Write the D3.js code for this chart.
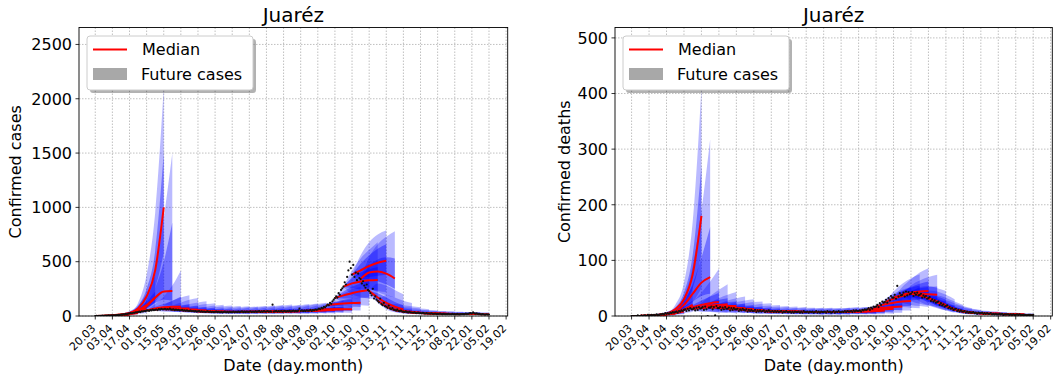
<!DOCTYPE html>
<html>
<head>
<meta charset="utf-8">
<script src="https://cdn.jsdelivr.net/npm/d3@7"></script>
<style>
  body { margin: 0; background: #fff; }
  svg { display: block; }
  text { font-family: "DejaVu Sans", sans-serif; fill: #000; }
</style>
</head>
<body>
<svg id="chart" width="1060" height="379"></svg>
<script>
// ---------------------------------------------------------------------------
// Data: Juárez daily confirmed cases / deaths and weekly 4-week forecasts
// ---------------------------------------------------------------------------
const seriesStart = [2020, 2, 20];            // first observed day: 20 March 2020
const cityName = "Juaréz";

const tickLabels = ["20.03", "03.04", "17.04", "01.05", "15.05", "29.05", "12.06",
  "26.06", "10.07", "24.07", "07.08", "21.08", "04.09", "18.09", "02.10", "16.10",
  "30.10", "13.11", "27.11", "11.12", "25.12", "08.01", "22.01", "05.02", "19.02"];
const tickDays = [0, 14, 28, 42, 56, 70, 84, 98, 112, 126, 140, 154, 168, 182, 196,
  210, 224, 238, 252, 266, 280, 294, 308, 322, 336];

const casesTicks = [0, 500, 1000, 1500, 2000, 2500];
const deathsTicks = [0, 100, 200, 300, 400, 500];

// days (since series start) on which each forecast was issued
const forecastStarts = [0, 7, 14, 21, 28, 35, 42, 49, 56, 63, 70, 77, 84, 91, 98, 105,
  112, 119, 126, 133, 140, 147, 154, 161, 168, 175, 182, 189, 196, 203, 210, 217, 224,
  231, 238, 245, 252, 259, 266, 273, 280, 287, 294];
// forecast horizon nodes, in days after issue
const horizonDays = [0, 7, 14, 21, 28];

const casesObserved = [
  0,1,0,1,2,1,3, 2,3,4,3,5,4,6, 5,7,6,9,8,11,10, 13,12,16,15,19,18,22,
  24,27,25,30,29,34,33, 37,40,36,43,41,46,44, 49,52,47,55,51,58,54, 57,60,55,63,58,66,61,
  62,65,59,64,60,67,58, 58,61,54,59,55,57,52, 53,56,49,52,48,51,46, 47,49,44,46,42,45,41,
  43,45,39,42,38,41,37, 40,43,37,41,36,39,35, 38,41,35,39,34,38,33, 37,40,34,38,33,39,35,
  36,41,34,39,35,40,36, 38,42,35,40,36,41,37, 39,43,36,41,37,42,38, 40,44,37,42,38,45,39,
  41,46,38,43,40,104,40, 42,47,39,44,41,46,40, 43,48,40,45,42,47,41, 44,50,42,47,43,49,68,
  46,52,44,49,45,53,48, 50,56,47,54,52,60,57, 60,68,62,75,70,84,80, 92,105,98,120,112,135,150,
  165,182,170,210,195,240,255, 270,310,290,360,420,500,440, 380,470,360,400,330,390,350,
  340,300,320,280,260,290,240, 230,210,190,250,160,180,150, 140,125,160,110,100,120,90,
  85,75,95,70,62,72,58, 55,50,58,46,44,49,41, 40,37,42,35,33,38,32, 32,30,34,28,27,31,26,
  27,25,29,24,23,26,22, 23,21,25,20,20,22,19, 20,19,22,18,17,20,17, 18,17,20,16,16,19,16,
  17,16,19,16,15,18,17, 18,17,21,19,20,24,26, 22,34,25,21,24,19,20, 16,15,18,14,13,16,14,
  14];

const deathsObserved = [
  0,0,0,0,0,1,0, 0,1,0,1,1,0,2, 1,1,2,1,2,1,3, 2,2,3,3,4,3,5,
  4,5,4,6,5,7,6, 7,8,6,9,8,10,9, 11,12,9,13,10,14,12, 12,14,10,15,11,16,13,
  14,16,11,17,12,0,15, 15,17,12,16,1,18,14, 14,16,11,15,12,16,13, 13,15,10,14,11,14,12,
  12,13,9,12,10,13,11, 10,12,8,11,9,11,9, 9,11,7,10,8,10,8, 9,10,7,9,8,10,8,
  8,9,7,9,7,9,7, 8,9,6,8,7,9,7, 7,8,6,8,6,8,7, 7,8,6,8,6,9,7,
  7,8,6,8,7,8,6, 7,9,6,8,6,8,7, 7,8,6,9,7,8,6, 7,9,6,8,7,9,7,
  7,8,7,9,7,9,8, 8,9,7,10,8,10,9, 9,10,8,11,10,12,11, 12,14,11,15,13,17,16,
  17,20,16,23,20,26,24, 25,29,24,32,28,36,33, 33,38,31,54,35,41,37,
  38,42,35,44,37,43,39, 40,43,36,41,38,42,37, 38,40,33,37,34,36,31,
  32,34,27,30,26,28,24, 25,26,20,23,19,21,17, 18,19,14,16,13,14,11, 12,13,9,11,8,10,8,
  8,9,6,8,6,7,6, 6,7,5,6,4,6,5, 5,6,4,5,4,5,4, 4,5,3,4,3,4,3,
  3,4,3,4,2,3,3, 3,3,2,3,2,3,2, 2,3,2,3,2,2,2, 2,2,1,2,2,2,1,
  2];

// Forecasts for confirmed cases: one row per issue date, values at horizonDays
const casesMedian = [
  [1,2,4,7,12],[3,6,11,18,28],[6,13,24,40,62],[13,28,55,100,170],[25,70,180,420,1000],
  [38,90,170,225,230],[50,70,80,85,85],[58,68,70,70,68],[62,63,62,60,58],[58,56,54,52,50],
  [52,50,48,46,45],[46,44,43,42,41],[42,41,40,39,39],[40,39,38,38,37],[38,38,37,37,37],
  [37,37,37,37,37],[37,38,38,39,39],[38,38,39,39,40],[38,39,40,41,42],[40,41,42,43,44],
  [41,42,42,43,43],[42,43,44,45,46],[42,43,45,46,48],[44,46,48,50,52],[46,48,50,53,55],
  [50,53,56,59,62],[60,61,62,62,62],[100,108,115,120,123],[165,190,210,228,240],
  [270,300,318,328,331],[380,420,460,490,509],[340,400,410,390,345],[230,170,120,85,60],
  [140,90,60,45,38],[85,55,42,35,30],[55,42,34,29,26],[40,33,28,25,22],[32,28,25,22,20],
  [27,24,22,20,19],[23,21,20,19,18],[20,19,18,18,18],[18,18,18,18,18],[17,18,18,17,16]];
const casesHigh95 = [
  [1,3,7,14,25],[3,9,20,36,60],[6,19,43,80,135],[13,42,100,210,380],[25,120,380,950,2100],
  [38,150,400,900,1500],[50,110,180,280,420],[58,100,140,170,190],[62,95,125,150,165],
  [58,88,110,125,135],[52,80,98,110,118],[46,70,86,96,104],[42,64,80,90,97],[40,62,76,86,92],
  [38,60,74,84,90],[37,58,72,82,88],[37,60,75,86,93],[38,60,76,88,96],[38,62,79,92,101],
  [40,65,83,96,106],[41,66,83,95,104],[42,68,87,100,110],[42,68,88,103,114],[44,72,94,110,122],
  [46,75,98,115,128],[50,82,108,128,142],[60,95,120,140,155],[100,160,210,245,270],
  [165,270,360,430,480],[270,420,530,610,680],[380,560,680,750,790],[340,540,660,730,780],
  [230,300,280,240,200],[140,190,170,140,120],[85,110,100,90,80],[55,80,75,68,62],
  [40,60,58,54,50],[32,50,50,47,44],[27,42,44,43,41],[23,36,39,39,38],[20,32,35,36,36],
  [18,30,34,36,37],[17,29,33,34,34]];
const casesLow95 = [
  [1,1,2,3,5],[3,4,6,9,13],[6,9,13,20,28],[13,19,30,48,75],[25,40,70,130,250],
  [38,55,80,100,95],[50,45,40,38,35],[58,45,40,36,32],[62,44,36,32,28],[58,40,33,28,25],
  [52,36,29,25,22],[46,32,26,22,20],[42,30,24,21,19],[40,28,23,20,18],[38,27,22,19,17],
  [37,26,21,19,17],[37,27,22,20,18],[38,27,23,20,19],[38,28,23,21,19],[40,29,24,22,20],
  [41,30,25,22,20],[42,31,26,23,21],[42,31,26,23,22],[44,33,28,25,23],[46,34,29,26,24],
  [50,37,32,29,27],[60,44,37,33,30],[100,72,60,54,50],[165,125,110,100,95],
  [270,200,175,160,150],[380,290,250,230,220],[340,260,220,190,170],[230,120,75,48,32],
  [140,60,35,24,18],[85,38,25,19,15],[55,30,21,16,13],[40,24,18,14,12],[32,20,16,13,11],
  [27,17,14,12,10],[23,15,13,11,10],[20,14,12,10,9],[18,13,11,10,9],[17,12,11,10,9]];
const casesHigh50 = [
  [1,2,5,9,15],[3,7,14,23,37],[6,15,30,52,82],[13,33,70,130,225],[25,90,250,600,1500],
  [38,115,260,500,860],[50,85,110,140,180],[58,78,90,100,105],[62,75,82,88,92],[58,68,74,78,80],
  [52,61,66,69,71],[46,54,58,61,63],[42,50,54,57,59],[40,47,51,54,56],[38,46,50,53,55],
  [37,45,49,52,54],[37,46,51,54,57],[38,46,52,56,58],[38,47,53,57,61],[40,50,56,60,64],
  [41,50,55,59,62],[42,52,58,63,66],[42,52,59,64,69],[44,55,63,69,74],[46,57,65,72,78],
  [50,63,73,80,86],[60,72,80,85,90],[100,128,148,160,170],[165,225,270,300,325],
  [270,350,400,430,450],[380,480,560,620,660],[340,460,520,540,530],[230,210,170,130,100],
  [140,115,85,68,58],[85,70,58,50,45],[55,52,46,41,37],[40,41,37,34,31],[32,35,33,30,28],
  [27,30,29,27,26],[23,26,26,25,24],[20,23,24,24,24],[18,22,23,24,24],[17,21,22,22,22]];
const casesLow50 = [
  [1,2,3,5,9],[3,5,9,14,21],[6,11,19,31,46],[13,24,44,78,128],[25,55,120,260,580],
  [38,70,120,150,140],[50,58,60,60,58],[58,60,57,54,50],[62,55,50,46,42],[58,50,45,41,38],
  [52,44,40,36,34],[46,39,35,32,30],[42,36,33,30,28],[40,34,31,29,27],[38,33,30,28,26],
  [37,32,29,27,26],[37,33,30,28,27],[38,33,30,29,28],[38,34,31,30,29],[40,35,33,31,30],
  [41,36,33,31,30],[42,37,34,32,31],[42,37,35,33,32],[44,39,37,35,34],[46,41,38,37,36],
  [50,45,43,41,40],[60,53,49,47,45],[100,92,88,86,84],[165,160,160,165,170],
  [270,255,245,240,235],[380,360,360,370,380],[340,340,320,290,250],[230,145,95,65,45],
  [140,75,48,35,28],[85,46,34,27,23],[55,36,28,23,20],[40,29,23,20,17],[32,24,20,18,16],
  [27,21,18,16,15],[23,18,16,15,14],[20,16,15,14,13],[18,15,14,13,13],[17,15,14,13,12]];

// Forecasts for confirmed deaths
const deathsMedian = [
  [0,0,1,1,2],[1,1,2,3,4],[1,2,3,5,8],[2,4,7,12,20],[4,12,30,75,180],[7,20,40,60,70],
  [11,16,20,23,25],[12,16,19,20,21],[14,16,17,18,18],[15,15,15,15,14],[14,14,13,13,12],
  [13,12,12,11,11],[12,11,10,10,9],[10,10,9,9,8],[9,9,8,8,8],[9,8,8,8,8],[8,8,8,8,7],
  [8,8,8,7,7],[7,7,7,7,7],[7,7,7,7,7],[7,7,7,7,7],[7,7,7,7,7],[7,7,7,7,8],[7,7,8,8,8],
  [7,8,8,8,9],[8,8,9,9,10],[9,10,11,12,13],[12,14,15,16,17],[17,21,24,26,27],
  [25,31,36,40,42],[33,38,42,44,45],[38,40,40,39,38],[40,37,32,26,20],[38,32,25,18,12],
  [32,25,18,12,8],[25,18,12,8,6],[18,12,8,6,5],[12,8,6,5,4],[8,6,5,4,4],[6,5,4,4,3],
  [5,4,4,3,3],[4,4,3,3,3],[3,3,3,2,2]];
const deathsHigh95 = [
  [0,1,2,4,6],[1,2,4,7,11],[1,3,7,13,22],[2,7,15,30,55],[4,20,60,170,410],[7,35,90,190,318],
  [11,26,42,62,85],[12,24,36,47,57],[14,24,32,38,43],[15,22,28,32,35],[14,21,25,28,30],
  [13,19,23,25,26],[12,17,20,22,23],[10,15,18,19,20],[9,14,16,17,18],[9,13,15,16,17],
  [8,12,14,15,16],[8,12,14,15,15],[7,11,13,14,15],[7,11,13,14,15],[7,11,13,14,14],
  [7,11,13,14,15],[7,11,13,15,16],[7,11,14,15,16],[7,12,14,16,17],[8,12,15,17,19],
  [9,14,18,21,24],[12,20,25,29,32],[17,30,40,47,52],[25,44,58,68,75],[33,52,66,78,86],
  [38,55,64,70,74],[40,52,54,50,45],[38,46,44,38,30],[32,37,33,26,20],[25,28,23,18,14],
  [18,20,16,13,11],[12,14,12,10,9],[8,10,9,8,8],[6,8,8,7,7],[5,7,7,6,6],[4,6,6,6,5],
  [3,5,5,5,5]];
const deathsLow95 = [
  [0,0,0,0,0],[1,0,0,1,1],[1,1,1,2,3],[2,2,3,5,7],[4,6,12,25,50],[7,9,14,18,20],
  [11,9,8,8,7],[12,8,7,6,6],[14,9,7,6,5],[15,9,7,6,5],[14,9,7,6,5],[13,8,6,5,4],
  [12,7,5,4,4],[10,6,5,4,3],[9,6,4,4,3],[9,5,4,3,3],[8,5,4,3,3],[8,5,4,3,3],[7,4,3,3,2],
  [7,4,3,3,2],[7,4,3,3,2],[7,4,3,3,2],[7,4,3,3,3],[7,4,4,3,3],[7,5,4,3,3],[8,5,4,3,3],
  [9,6,5,5,4],[12,8,7,6,6],[17,12,11,10,10],[25,18,16,15,14],[33,24,20,18,16],
  [38,27,22,19,16],[40,26,19,14,10],[38,22,15,10,6],[32,17,11,7,4],[25,12,7,4,3],
  [18,8,5,3,2],[12,5,3,2,2],[8,4,2,2,1],[6,3,2,1,1],[5,2,2,1,1],[4,2,1,1,1],[3,2,1,1,1]];
const deathsHigh50 = [
  [0,1,1,2,3],[1,1,3,4,6],[1,2,4,7,11],[2,5,10,17,28],[4,15,42,110,270],[7,26,58,105,160],
  [11,20,28,35,42],[12,19,25,29,32],[14,19,22,25,26],[15,18,20,21,22],[14,17,18,19,19],
  [13,15,16,16,16],[12,13,14,14,14],[10,12,12,12,12],[9,11,11,11,11],[9,10,10,11,11],
  [8,10,10,10,10],[8,10,10,10,10],[7,9,9,9,9],[7,9,9,9,9],[7,9,9,9,9],[7,9,9,9,9],
  [7,9,9,10,10],[7,9,10,10,10],[7,10,10,10,11],[8,10,11,12,13],[9,12,13,15,17],
  [12,17,19,21,23],[17,25,30,34,37],[25,37,45,51,55],[33,44,52,58,62],[38,46,50,52,53],
  [40,43,40,35,29],[38,37,32,25,18],[32,29,23,17,12],[25,21,16,11,9],[18,15,11,8,7],
  [12,10,8,6,5],[8,7,6,5,5],[6,6,5,5,4],[5,5,5,4,4],[4,5,4,4,4],[3,4,4,3,3]];
const deathsLow50 = [
  [0,0,0,1,1],[1,1,1,2,3],[1,1,2,3,5],[2,3,5,9,14],[4,9,21,50,110],[7,14,26,36,40],
  [11,13,14,15,15],[12,12,13,13,13],[14,13,12,12,11],[15,12,11,10,9],[14,11,10,9,8],
  [13,10,9,8,7],[12,9,8,7,6],[10,8,7,6,6],[9,7,6,6,5],[9,7,6,5,5],[8,6,6,5,5],[8,6,6,5,5],
  [7,6,5,5,4],[7,6,5,5,4],[7,6,5,5,4],[7,6,5,5,4],[7,6,5,5,5],[7,6,6,5,5],[7,6,6,5,5],
  [8,7,6,6,6],[9,8,8,8,8],[12,11,11,11,11],[17,17,18,18,18],[25,26,27,28,29],
  [33,32,32,31,30],[38,34,31,29,27],[40,31,25,19,14],[38,27,19,13,8],[32,21,14,9,6],
  [25,15,10,6,4],[18,10,6,4,3],[12,7,5,3,3],[8,5,4,3,3],[6,4,3,3,2],[5,3,3,2,2],
  [4,3,2,2,2],[3,2,2,2,1]];

// ---------------------------------------------------------------------------
// Drawing
// ---------------------------------------------------------------------------
const DAY_MS = 864e5;
const t0 = Date.UTC(seriesStart[0], seriesStart[1], seriesStart[2]);
const dayDate = d => new Date(t0 + d * DAY_MS);
const xDomain = [dayDate(-13.3), dayDate(337.3)];
const tickDates = tickDays.map(dayDate);

const svg = d3.select("#chart");
const defs = svg.append("defs");

const panels = [
  { id: "cases", ylabel: "Confirmed cases", observed: casesObserved,
    median: casesMedian, hi95: casesHigh95, lo95: casesLow95, hi50: casesHigh50, lo50: casesLow50,
    yMax: 2656, yTicks: casesTicks,
    left: 79, right: 507.7, top: 27.5, bottom: 316, ylabelX: 21 },
  { id: "deaths", ylabel: "Confirmed deaths", observed: deathsObserved,
    median: deathsMedian, hi95: deathsHigh95, lo95: deathsLow95, hi50: deathsHigh50, lo50: deathsLow50,
    yMax: 518.7, yTicks: deathsTicks,
    left: 615, right: 1052.3, top: 27.5, bottom: 316, ylabelX: 570 }
];

panels.forEach(p => {
  const g = svg.append("g");
  const x = d3.scaleUtc().domain(xDomain).range([p.left, p.right]);
  const y = d3.scaleLinear().domain([0, p.yMax]).range([p.bottom, p.top]);

  defs.append("clipPath").attr("id", "clip-" + p.id)
    .append("rect").attr("x", p.left).attr("y", p.top)
    .attr("width", p.right - p.left).attr("height", p.bottom - p.top);

  // grid
  const grid = g.append("g").attr("stroke", "#b0b0b0").attr("stroke-width", 0.8)
    .attr("stroke-dasharray", "1.5,1.5");
  grid.selectAll("line.v").data(tickDates).join("line").attr("class", "v")
    .attr("x1", d => x(d)).attr("x2", d => x(d)).attr("y1", p.top).attr("y2", p.bottom);
  grid.selectAll("line.h").data(p.yTicks).join("line").attr("class", "h")
    .attr("x1", p.left).attr("x2", p.right).attr("y1", d => y(d)).attr("y2", d => y(d));

  const plot = g.append("g").attr("clip-path", `url(#clip-${p.id})`);

  // forecast bands
  forecastStarts.forEach((s, i) => {
    const pts = horizonDays.map((h, k) => ({ t: dayDate(s + h), k }));
    const band = (lo, hi) => d3.area()
      .x(d => x(d.t)).y0(d => y(lo[i][d.k])).y1(d => y(hi[i][d.k]))
      .curve(d3.curveMonotoneX)(pts);
    plot.append("path").attr("d", band(p.lo95, p.hi95))
      .attr("fill", "blue").attr("fill-opacity", 0.27);
    plot.append("path").attr("d", band(p.lo50, p.hi50))
      .attr("fill", "blue").attr("fill-opacity", 0.38);
  });

  // forecast medians
  forecastStarts.forEach((s, i) => {
    const pts = horizonDays.map((h, k) => ({ t: dayDate(s + h), v: p.median[i][k] }));
    plot.append("path")
      .attr("d", d3.line().x(d => x(d.t)).y(d => y(d.v)).curve(d3.curveMonotoneX)(pts))
      .attr("fill", "none").attr("stroke", "red").attr("stroke-width", 2);
  });

  // observed daily values
  plot.append("g").selectAll("circle").data(p.observed).join("circle")
    .attr("cx", (d, i) => x(dayDate(i))).attr("cy", d => y(d))
    .attr("r", 1.1).attr("fill", "#111");

  // frame
  g.append("rect").attr("x", p.left).attr("y", p.top)
    .attr("width", p.right - p.left).attr("height", p.bottom - p.top)
    .attr("fill", "none").attr("stroke", "#000").attr("stroke-width", 0.9);

  // x ticks
  const xt = g.append("g");
  xt.selectAll("line").data(tickDates).join("line")
    .attr("x1", d => x(d)).attr("x2", d => x(d))
    .attr("y1", p.bottom).attr("y2", p.bottom + 3.5)
    .attr("stroke", "#000").attr("stroke-width", 0.8);
  xt.selectAll("text").data(tickDates).join("text")
    .attr("transform", d => `translate(${x(d) + 1},${p.bottom + 13}) rotate(-45)`)
    .attr("text-anchor", "end").attr("font-size", 11)
    .text((d, i) => tickLabels[i]);

  // y ticks
  const yt = g.append("g");
  yt.selectAll("line").data(p.yTicks).join("line")
    .attr("x1", p.left - 3.5).attr("x2", p.left)
    .attr("y1", d => y(d)).attr("y2", d => y(d))
    .attr("stroke", "#000").attr("stroke-width", 0.8);
  yt.selectAll("text").data(p.yTicks).join("text")
    .attr("x", p.left - 7).attr("y", d => y(d)).attr("dy", "0.36em")
    .attr("text-anchor", "end").attr("font-size", 16)
    .text(d => d);

  // titles
  g.append("text").attr("x", (p.left + p.right) / 2).attr("y", 22)
    .attr("text-anchor", "middle").attr("font-size", 20).text(cityName);
  g.append("text").attr("x", (p.left + p.right) / 2).attr("y", 371)
    .attr("text-anchor", "middle").attr("font-size", 16).text("Date (day.month)");
  g.append("text")
    .attr("transform", `translate(${p.ylabelX},${(p.top + p.bottom) / 2}) rotate(-90)`)
    .attr("text-anchor", "middle").attr("font-size", 16).text(p.ylabel);

  // legend
  const lx = p.left + 8, ly = 36, lw = 166, lh = 54;
  const lg = g.append("g");
  lg.append("rect").attr("x", lx + 3).attr("y", ly + 3).attr("width", lw).attr("height", lh)
    .attr("rx", 3).attr("fill", "#000").attr("fill-opacity", 0.3);
  lg.append("rect").attr("x", lx).attr("y", ly).attr("width", lw).attr("height", lh)
    .attr("rx", 3).attr("fill", "#fff").attr("stroke", "#ccc").attr("stroke-width", 1);
  lg.append("line").attr("x1", lx + 6).attr("x2", lx + 40)
    .attr("y1", ly + 13.5).attr("y2", ly + 13.5).attr("stroke", "red").attr("stroke-width", 2);
  lg.append("text").attr("x", lx + 55).attr("y", ly + 19).attr("font-size", 16).text("Median");
  lg.append("rect").attr("x", lx + 6).attr("y", ly + 32).attr("width", 34).attr("height", 12)
    .attr("fill", "#a8a8a8");
  lg.append("text").attr("x", lx + 54).attr("y", ly + 44).attr("font-size", 16).text("Future cases");
});
</script>
</body>
</html>
